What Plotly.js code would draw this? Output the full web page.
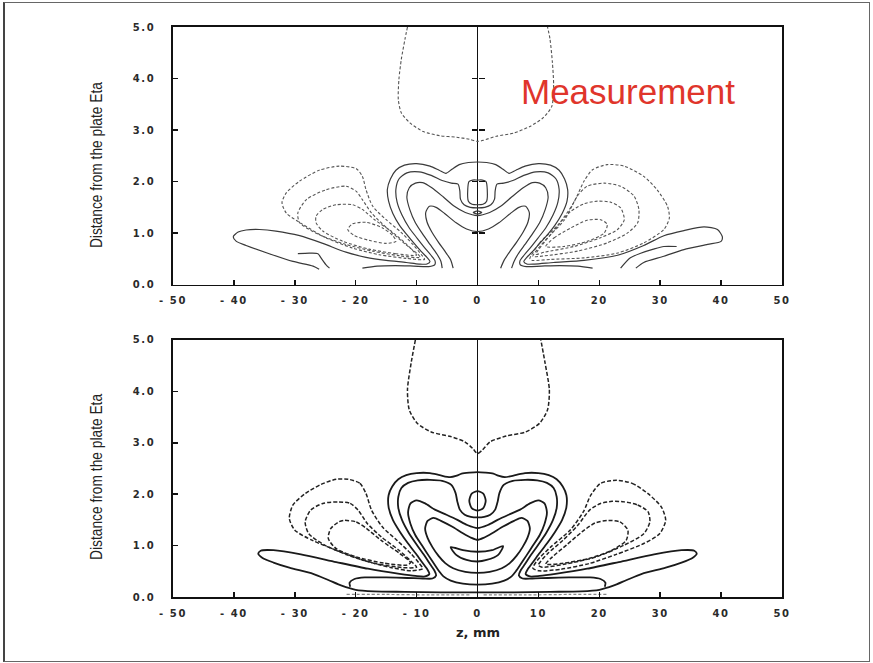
<!DOCTYPE html>
<html>
<head>
<meta charset="utf-8">
<script src="https://cdn.plot.ly/plotly-3.0.1.min.js"></script>
<style>
  html, body { margin: 0; padding: 0; background: #fff; }
  #chart { width: 873px; height: 663px; }
  #border { position: absolute; left: 3px; top: 2px; width: 867px; height: 660px;
            box-sizing: border-box; border: 1.5px solid #666; border-left: 2px solid #444;
            pointer-events: none; }
  .xtick text, .x2tick text, .ytick text, .y2tick text { letter-spacing: 1.6px; }
</style>
</head>
<body>
<div id="chart"></div>
<div id="border"></div>
<script>
// ---- axis ticks ----
const zTicks = [-50, -40, -30, -20, -10, 0, 10, 20, 30, 40, 50];
const zTickText = ['- 50', '- 40', '- 30', '- 20', '- 10', '0', '10', '20', '30', '40', '50'];
const etaTicks = [0, 1, 2, 3, 4, 5];
const etaTickText = ['0.0', '1.0', '2.0', '3.0', '4.0', '5.0'];
const centerTickEta = [1, 2, 3, 4];
const etaTitle = 'Distance from the plate Eta';

// ---- upper panel (measurement): contour lines as [z, eta] points ----
const measPlume = [[-11.5,5.0],[-11.9,4.77],[-12.5,4.38],[-12.9,3.99],[-13.0,3.59],[-12.5,3.33],[-11.1,3.14],[-8.9,2.97],[-6.2,2.89],[-3.4,2.86],[-1.3,2.82],[0,2.78],[0.9,2.80],[3.1,2.88],[5.9,2.94],[8.6,3.07],[10.8,3.24],[12.2,3.46],[12.5,3.86],[12.3,4.31],[11.9,4.77],[11.5,5.0]];

const measLobeL1 = [[-8.7,0.49],[-11.7,0.51],[-16.1,0.58],[-20.5,0.71],[-24.9,0.91],[-28.7,1.17],[-31.4,1.39],[-32.1,1.59],[-31.4,1.78],[-29.2,2.01],[-26.0,2.22],[-22.7,2.30],[-19.9,2.25],[-18.9,2.10],[-18.3,1.84],[-17.2,1.52],[-15.0,1.26],[-12.6,1.02],[-10.6,0.78],[-9.2,0.58],[-8.7,0.49]];
const measLobeL2 = [[-9.4,0.53],[-12.8,0.56],[-17.2,0.65],[-21.6,0.78],[-26.0,0.97],[-29.2,1.20],[-29.5,1.39],[-28.1,1.65],[-24.9,1.84],[-21.6,1.91],[-19.9,1.81],[-18.9,1.65],[-17.4,1.39],[-14.9,1.10],[-11.8,0.78],[-9.8,0.59],[-9.4,0.53]];
const measLobeL3 = [[-10.0,0.57],[-13.4,0.60],[-17.8,0.69],[-22.1,0.84],[-25.4,1.04],[-26.5,1.20],[-26.5,1.33],[-25.4,1.46],[-23.2,1.55],[-20.5,1.55],[-18.9,1.46],[-16.9,1.26],[-14.2,1.04],[-11.8,0.80],[-10.3,0.62],[-10.0,0.57]];
const measLobeL4 = [[-21.3,1.07],[-20.5,1.18],[-18.3,1.21],[-15.6,1.10],[-13.9,0.95],[-13.4,0.84],[-15.0,0.80],[-17.8,0.86],[-20.2,0.95],[-21.3,1.07]];

const measLobeR1 = [[8.6,0.50],[10.2,0.81],[13.3,1.17],[15.8,1.59],[17.5,2.01],[18.9,2.23],[21.3,2.33],[24.1,2.30],[27.3,2.10],[29.5,1.84],[31.2,1.52],[31.5,1.29],[30.6,1.07],[27.3,0.81],[22.9,0.61],[17.5,0.52],[12.0,0.49],[9.0,0.47],[8.6,0.50]];
const measLobeR2 = [[9.1,0.55],[11.2,0.87],[14.3,1.26],[16.4,1.72],[18.0,1.91],[20.8,1.97],[23.5,1.91],[25.7,1.72],[26.5,1.46],[26.3,1.20],[24.6,1.00],[21.3,0.81],[16.4,0.65],[11.0,0.56],[9.1,0.55]];
const measLobeR3 = [[9.6,0.59],[12.2,1.00],[15.3,1.42],[17.5,1.57],[19.7,1.62],[21.9,1.60],[23.5,1.49],[24.1,1.26],[23.0,1.07],[20.2,0.91],[15.8,0.74],[11.0,0.63],[9.6,0.59]];
const measLobeR4 = [[11.2,0.74],[12.6,0.91],[15.3,1.10],[18.0,1.25],[20.2,1.26],[21.3,1.17],[20.8,1.00],[18.0,0.84],[14.2,0.74],[11.2,0.74]];

const measOuter = [[-26.0,0.30],[-27.0,0.36],[-30.3,0.45],[-34.2,0.60],[-38.0,0.76],[-39.6,0.84],[-40.1,0.93],[-39.3,1.02],[-38.0,1.06],[-35.8,1.07],[-33.1,1.04],[-29.2,0.95],[-25.4,0.80],[-21.6,0.63],[-18.3,0.53],[-15.0,0.47],[-11.7,0.43],[-9.6,0.40],[-8.3,0.40],[-7.8,0.45],
  [-8.3,0.53],[-9.3,0.65],[-10.4,0.80],[-11.6,0.97],[-12.8,1.15],[-13.9,1.38],[-14.6,1.62],[-14.8,1.85],[-14.3,2.05],[-13.4,2.22],[-12.0,2.32],[-10.0,2.35],[-7.8,2.30],[-6.3,2.22],[-5.2,2.16],[-4.2,2.24],[-3.0,2.33],[-1.5,2.37],[0,2.38],
  [1.5,2.37],[3.0,2.33],[4.2,2.24],[5.2,2.16],[6.3,2.22],[7.8,2.30],[10.0,2.35],[12.0,2.32],[13.4,2.22],[14.3,2.05],[14.8,1.85],[14.7,1.62],[13.9,1.38],[12.7,1.15],[11.5,0.97],[10.2,0.80],[9.1,0.65],[8.1,0.53],[7.6,0.45],[8.1,0.40],[9.4,0.40],
  [12.5,0.43],[17.5,0.47],[23.0,0.57],[27.3,0.76],[30.6,0.95],[33.9,1.05],[37.2,1.12],[39.4,1.07],[40.2,0.93],[40.0,0.84],[37.8,0.78],[33.9,0.68],[30.6,0.55],[27.3,0.43],[26.0,0.32]];
const measH2 = [[-18.9,0.32],[-16.5,0.36],[-13.5,0.37],[-10.5,0.36],[-8.0,0.35],[-7.0,0.39],[-7.0,0.47],[-7.7,0.58],[-8.7,0.72],[-9.9,0.90],[-11.2,1.10],[-12.4,1.35],[-13.2,1.60],[-13.4,1.85],[-12.9,2.05],[-11.6,2.17],[-9.6,2.19],[-7.6,2.12],[-5.8,2.02],[-4.3,1.97],[-3.2,1.95],[-2.9,1.82],[-2.8,1.66],[-2.2,1.55],[-1.2,1.50],[0,1.49],
  [1.2,1.50],[2.2,1.55],[2.8,1.66],[2.9,1.82],[3.2,1.95],[4.3,1.97],[5.8,2.02],[7.6,2.12],[9.6,2.19],[11.6,2.17],[12.9,2.05],[13.4,1.85],[13.2,1.60],[12.4,1.35],[11.2,1.10],[9.9,0.90],[8.7,0.72],[7.7,0.58],[7.0,0.47],[7.0,0.39],[8.0,0.35],[10.5,0.36],[13.5,0.37],[16.5,0.36],[18.9,0.32]];
const measH3 = [[-5.8,0.32],[-6.0,0.45],[-6.7,0.60],[-7.8,0.78],[-9.0,0.98],[-10.2,1.20],[-11.1,1.45],[-11.6,1.70],[-11.2,1.88],[-10.2,1.97],[-9.0,1.98],[-7.5,1.88],[-5.6,1.70],[-3.8,1.52],[-2.0,1.40],[0,1.34],
  [2.0,1.40],[3.8,1.52],[5.6,1.70],[7.5,1.88],[9.0,1.98],[10.2,1.97],[11.2,1.88],[11.6,1.70],[11.1,1.45],[10.2,1.20],[9.0,0.98],[7.8,0.78],[6.7,0.60],[6.0,0.45],[5.6,0.32]];
const measH4 = [[-4.0,0.32],[-4.4,0.48],[-5.3,0.64],[-6.4,0.82],[-7.5,1.02],[-8.3,1.22],[-8.5,1.40],[-7.9,1.52],[-6.8,1.50],[-5.4,1.38],[-3.5,1.20],[-1.8,1.08],[0,1.03],
  [1.8,1.08],[3.5,1.20],[5.4,1.38],[6.8,1.50],[7.9,1.52],[8.5,1.40],[8.3,1.22],[7.5,1.02],[6.4,0.82],[5.3,0.64],[4.4,0.48],[3.8,0.32]];
const measCap = [[-1.5,1.62],[-1.6,1.85],[-1.4,2.00],[-0.8,2.03],[0,2.03],[0.8,2.03],[1.4,2.00],[1.6,1.85],[1.5,1.62],[0.9,1.56],[0,1.55],[-0.9,1.56],[-1.5,1.62]];
const measDot = [[-0.7,1.40],[0,1.43],[0.7,1.40],[0,1.37],[-0.7,1.40]];
const measNotchL = [[-29.5,0.60],[-27.6,0.61],[-26.2,0.60],[-25.7,0.52],[-24.9,0.39],[-24.3,0.32]];
const measNotchR = [[32.7,0.74],[30.6,0.74],[28.9,0.69],[26.8,0.61],[25.1,0.52],[23.5,0.32]];

// ---- lower panel (computation): contour lines as [z, eta] points ----
const modelPlume = [[-10.2,5.0],[-10.9,4.55],[-11.5,4.03],[-11.2,3.64],[-9.9,3.38],[-7.6,3.21],[-4.4,3.12],[-2.1,3.02],[-0.8,2.89],[0,2.79],[0.8,2.86],[2.1,3.02],[4.7,3.13],[7.9,3.21],[10.2,3.38],[11.5,3.64],[11.8,4.03],[11.1,4.55],[10.4,5.0]];

const modelLobeL1 = [[-21.2,2.29],[-19.3,2.21],[-18.3,2.01],[-17.4,1.69],[-15.6,1.36],[-13.2,1.10],[-10.9,0.84],[-9.6,0.66],[-9.0,0.55],[-10.9,0.51],[-14.1,0.57],[-18.6,0.71],[-23.2,0.91],[-27.1,1.10],[-30.0,1.30],[-30.9,1.53],[-30.3,1.79],[-28.3,2.01],[-25.7,2.19],[-23.2,2.29],[-21.2,2.29]];
const modelLobeL2 = [[-22.8,1.85],[-20.9,1.82],[-19.6,1.69],[-18.1,1.43],[-15.8,1.17],[-12.9,0.91],[-10.6,0.66],[-10.0,0.58],[-12.2,0.57],[-16.7,0.65],[-21.2,0.81],[-25.1,1.01],[-27.7,1.23],[-28.3,1.46],[-27.4,1.69],[-25.4,1.82],[-22.8,1.85]];
const modelLobeL3 = [[-21.9,1.49],[-19.9,1.46],[-18.2,1.33],[-15.8,1.10],[-12.7,0.84],[-11.0,0.67],[-11.6,0.62],[-15.4,0.66],[-19.9,0.78],[-23.2,0.94],[-24.5,1.14],[-24.1,1.33],[-22.8,1.46],[-21.9,1.49]];
const modelLobeR1 = [[22.8,2.27],[25.4,2.21],[28.0,2.01],[30.2,1.75],[30.9,1.49],[29.9,1.23],[27.3,1.04],[22.8,0.83],[18.3,0.65],[13.7,0.54],[10.1,0.51],[9.1,0.56],[9.8,0.71],[12.0,0.97],[15.2,1.30],[17.4,1.66],[18.6,1.98],[20.2,2.21],[22.8,2.27]];
const modelLobeR2 = [[24.1,1.85],[26.3,1.79],[28.0,1.66],[28.3,1.46],[27.3,1.23],[24.1,1.01],[19.5,0.78],[14.4,0.64],[10.6,0.58],[10.0,0.62],[11.5,0.84],[14.0,1.10],[16.5,1.40],[18.4,1.69],[20.2,1.82],[22.1,1.86],[24.1,1.85]];
const modelLobeR3 = [[21.5,1.49],[23.4,1.46],[24.7,1.30],[24.4,1.10],[22.1,0.91],[18.3,0.75],[13.7,0.65],[11.2,0.64],[12.3,0.78],[14.6,1.01],[17.2,1.27],[19.3,1.44],[21.5,1.49]];

const modelOuter = [[0,0.09],[-6,0.09],[-12,0.10],[-17,0.11],[-20,0.14],[-22.3,0.22],[-24.5,0.33],[-27.0,0.45],[-30.9,0.57],[-33.5,0.67],[-35.3,0.76],[-36.0,0.84],[-35.6,0.90],[-33.5,0.91],[-29.0,0.83],[-23.2,0.68],[-18.0,0.55],[-12.8,0.45],[-10.2,0.41],[-8.6,0.40],[-7.9,0.45],
  [-8.2,0.53],[-9.0,0.66],[-10.1,0.84],[-11.4,1.04],[-12.7,1.26],[-13.9,1.50],[-14.6,1.75],[-14.6,1.98],[-14.0,2.15],[-13.0,2.29],[-11.7,2.37],[-10.0,2.41],[-7.8,2.41],[-6.2,2.37],[-4.5,2.33],[-3.4,2.36],[-2.6,2.40],[-1.3,2.42],[0,2.43],
  [1.3,2.42],[2.6,2.40],[3.4,2.36],[4.5,2.33],[6.2,2.37],[7.8,2.41],[10.0,2.41],[11.7,2.37],[13.0,2.29],[14.0,2.15],[14.6,1.98],[14.6,1.75],[13.9,1.50],[12.7,1.26],[11.4,1.04],[10.1,0.84],[9.0,0.66],[8.2,0.53],[7.9,0.45],[8.6,0.40],
  [10.2,0.41],[12.8,0.45],[18.0,0.55],[23.2,0.68],[29.0,0.83],[33.5,0.91],[35.6,0.90],[36.0,0.84],[35.3,0.76],[33.5,0.67],[30.9,0.57],[27.0,0.45],[24.5,0.33],[22.3,0.22],[20,0.14],[17,0.11],[12,0.10],[6,0.09],[0,0.09]];
const modelH2 = [[-20.9,0.20],[-21.0,0.28],[-20.2,0.35],[-18.5,0.38],[-15.0,0.38],[-11.5,0.37],[-9.0,0.36],[-7.4,0.36],[-6.8,0.42],[-7.1,0.52],[-7.8,0.64],[-8.8,0.82],[-10.0,1.02],[-11.3,1.25],[-12.4,1.50],[-13.0,1.73],[-13.0,1.95],[-12.5,2.12],[-11.4,2.22],[-9.8,2.27],[-7.8,2.28],[-5.8,2.26],[-4.3,2.18],[-3.6,2.02],[-3.3,1.85],[-2.9,1.70],[-2.1,1.60],[-1.1,1.56],[0,1.55],
  [1.1,1.56],[2.1,1.60],[2.9,1.70],[3.3,1.85],[3.6,2.02],[4.3,2.18],[5.8,2.26],[7.8,2.28],[9.8,2.27],[11.4,2.22],[12.5,2.12],[13.0,1.95],[13.0,1.73],[12.4,1.50],[11.3,1.25],[10.0,1.02],[8.8,0.82],[7.8,0.64],[7.1,0.52],[6.8,0.42],[7.4,0.36],[9.0,0.36],[11.5,0.37],[15.0,0.38],[18.5,0.38],[20.2,0.35],[21.0,0.28],[20.9,0.20]];
const modelH3 = [[0,0.24],[-2.4,0.26],[-4.4,0.32],[-5.6,0.40],[-6.3,0.50],[-7.0,0.62],[-8.0,0.80],[-9.1,1.00],[-10.2,1.20],[-11.0,1.42],[-11.4,1.65],[-11.0,1.82],[-10.0,1.88],[-8.6,1.82],[-7.0,1.70],[-5.1,1.60],[-3.3,1.50],[-1.7,1.40],[0,1.34],
  [1.7,1.40],[3.3,1.50],[5.1,1.60],[7.0,1.70],[8.6,1.82],[10.0,1.88],[11.0,1.82],[11.4,1.65],[11.0,1.42],[10.2,1.20],[9.1,1.00],[8.0,0.80],[7.0,0.62],[6.3,0.50],[5.6,0.40],[4.4,0.32],[2.4,0.26],[0,0.24]];
const modelH4 = [[0,0.47],[-2.0,0.49],[-4.0,0.56],[-5.3,0.66],[-6.4,0.80],[-7.4,0.97],[-8.2,1.15],[-8.6,1.33],[-8.2,1.48],[-7.2,1.54],[-6.0,1.48],[-4.2,1.37],[-2.4,1.24],[-1.0,1.15],[0,1.11],
  [1.0,1.15],[2.4,1.24],[4.2,1.37],[6.0,1.48],[7.2,1.54],[8.2,1.48],[8.6,1.33],[8.2,1.15],[7.4,0.97],[6.4,0.80],[5.3,0.66],[4.0,0.56],[2.0,0.49],[0,0.47]];
const modelCrescent = [[-4.4,0.97],[-2.4,0.91],[0,0.88],[2.4,0.91],[4.2,0.99],[3.4,0.82],[1.5,0.72],[0,0.69],[-1.8,0.72],[-3.5,0.82],[-4.4,0.97]];
const modelRing = [[0,2.06],[0.95,2.01],[1.35,1.87],[0.95,1.73],[0,1.68],[-0.95,1.73],[-1.35,1.87],[-0.95,2.01],[0,2.06]];
const modelBaseL = [[-21.5,0.05],[-15,0.05],[-8,0.04],[-1,0.04]];
const modelBaseR = [[1,0.04],[8,0.04],[15,0.05],[21.5,0.05]];

// ---- styles ----
const topSolid = { color: '#3a3a3a', width: 1.2 };
const topDash = { color: '#555', width: 1.1, dash: '3px,2px' };
const botSolid = { color: '#1a1a1a', width: 1.8 };
const botDash = { color: '#222', width: 1.5, dash: '4px,2px' };

const traces = [];
function addLine(pts, xa, ya, style) {
  traces.push({
    type: 'scatter', mode: 'lines', xaxis: xa, yaxis: ya,
    x: pts.map(p => p[0]), y: pts.map(p => p[1]),
    line: Object.assign({ shape: 'spline', smoothing: 0.7 }, style),
    hoverinfo: 'skip', showlegend: false
  });
}

[measPlume, measLobeL1, measLobeL2, measLobeL3, measLobeL4,
 measLobeR1, measLobeR2, measLobeR3, measLobeR4].forEach(c => addLine(c, 'x', 'y', topDash));
[measOuter, measH2, measH3, measH4, measCap, measDot, measNotchL, measNotchR]
  .forEach(c => addLine(c, 'x', 'y', topSolid));

[modelPlume, modelLobeL1, modelLobeL2, modelLobeL3,
 modelLobeR1, modelLobeR2, modelLobeR3].forEach(c => addLine(c, 'x2', 'y2', botDash));
[modelBaseL, modelBaseR].forEach(c => addLine(c, 'x2', 'y2', { color: '#888', width: 1.2, dash: '3px,2px' }));
[modelOuter, modelH2, modelH3, modelH4, modelCrescent, modelRing]
  .forEach(c => addLine(c, 'x2', 'y2', botSolid));

// invisible anchors for the tick-only axes on the centre line
['y3', 'y4'].forEach(ya => traces.push({
  type: 'scatter', mode: 'markers', xaxis: 'x', yaxis: ya,
  x: [zTicks[5]], y: [centerTickEta[0]], marker: { opacity: 0 }, hoverinfo: 'skip', showlegend: false
}));

const tickFont = { family: 'DejaVu Sans, Arial, sans-serif', size: 10, color: '#2a2a2a', weight: 'bold' };
function zAxis(anchor) {
  return {
    anchor: anchor, domain: [0, 1], range: [-50, 50], fixedrange: true,
    tickmode: 'array', tickvals: zTicks, ticktext: zTickText,
    ticks: 'inside', ticklen: 5, tickwidth: 1.5, tickcolor: '#111',
    showline: true, mirror: true, linecolor: '#111', linewidth: 1.8,
    showgrid: false, zeroline: true, zerolinecolor: '#111', zerolinewidth: 1.8,
    tickfont: tickFont, ticklabelstandoff: 6
  };
}
function etaAxis(anchor, domain) {
  return {
    anchor: anchor, domain: domain, range: [0, 5], fixedrange: true,
    tickmode: 'array', tickvals: etaTicks, ticktext: etaTickText,
    ticks: 'inside', ticklen: 5, tickwidth: 1.5, tickcolor: '#111',
    showline: true, mirror: true, linecolor: '#111', linewidth: 1.8,
    showgrid: false, zeroline: false,
    tickfont: tickFont, ticklabelstandoff: 14
  };
}
function centerTicks(side) {
  return {
    overlaying: 'y', anchor: 'free', position: 0.5, side: side, range: [0, 5],
    tickmode: 'array', tickvals: centerTickEta, ticks: 'outside', ticklen: 6, tickwidth: 1.5,
    tickcolor: '#111', showticklabels: false, showline: false, showgrid: false, zeroline: false,
    fixedrange: true
  };
}

const titleFont = { family: 'Liberation Sans, Arial, sans-serif', size: 17, color: '#222' };
const layout = {
  width: 873, height: 663,
  margin: { l: 173, r: 91, t: 27, b: 66 },
  paper_bgcolor: '#fff', plot_bgcolor: '#fff', showlegend: false,
  xaxis: zAxis('y'),
  yaxis: etaAxis('x', [0.548, 1]),
  xaxis2: zAxis('y2'),
  yaxis2: etaAxis('x2', [0, 0.451]),
  yaxis3: centerTicks('left'),
  yaxis4: centerTicks('right'),
  annotations: [
    { text: etaTitle, xref: 'paper', yref: 'paper', x: -0.126, y: 0.759,
      textangle: -90, showarrow: false, xanchor: 'center', yanchor: 'middle', font: titleFont },
    { text: etaTitle, xref: 'paper', yref: 'paper', x: -0.126, y: 0.212,
      textangle: -90, showarrow: false, xanchor: 'center', yanchor: 'middle', font: titleFont },
    { text: 'z, mm', xref: 'paper', yref: 'paper', x: 0.5, y: -0.063, showarrow: false,
      xanchor: 'center', yanchor: 'middle',
      font: { family: 'DejaVu Sans, Arial, sans-serif', size: 13, color: '#222', weight: 'bold' } },
    { text: 'Measurement', xref: 'paper', yref: 'paper', x: 0.747, y: 0.886, showarrow: false,
      xanchor: 'center', yanchor: 'middle',
      font: { family: 'Liberation Sans, Arial, sans-serif', size: 35, color: '#e0352b' } }
  ]
};

Plotly.newPlot('chart', traces, layout, { staticPlot: true, displayModeBar: false }).then(gd => {
  // the axis titles are set in a condensed face: squeeze the glyphs to a fixed run length
  gd.querySelectorAll('.annotation-text').forEach(t => {
    if (t.textContent === etaTitle) {
      t.setAttribute('textLength', '166');
      t.setAttribute('lengthAdjust', 'spacingAndGlyphs');
    }
  });
});
</script>
</body>
</html>
